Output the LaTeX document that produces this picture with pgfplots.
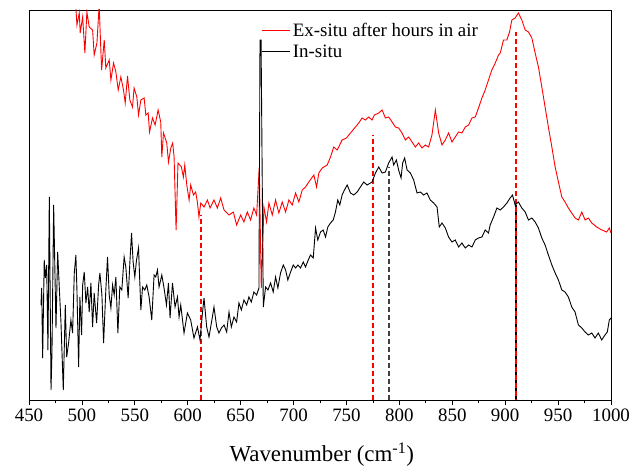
\documentclass[border=0pt]{standalone}
\usepackage{fontspec}
\setmainfont{Liberation Serif}
\usepackage{pgfplots}
\pgfplotsset{compat=1.18}
\definecolor{dred}{RGB}{255,0,0}
\begin{document}
\begin{tikzpicture}[x=1bp,y=1bp]
\useasboundingbox (0,0) rectangle (634,470);
\begin{axis}[
 at={(29bp,70bp)}, anchor=south west,
 scale only axis, width=582bp, height=390bp,
 xmin=450, xmax=1000, ymin=0, ymax=390,
 xtick={450,500,...,1000}, minor x tick num=1,
 xtick pos=bottom, tick align=outside, ytick=\empty,
 major tick length=5bp, minor tick length=3bp,
 every tick/.style={line width=0.8bp, black},
 axis line style={line width=0.8bp},
 /pgf/number format/assume math mode=true,
 /pgf/number format/1000 sep={},
 tick label style={font=\fontsize{19}{22}\selectfont},
 xlabel={Wavenumber (cm\textsuperscript{-1})},
 xlabel style={font=\fontsize{23}{26}\selectfont, at={(axis description cs:0.503,0)}, anchor=base, yshift=-62bp},
 legend style={draw=none, fill=none, at={(0.40,0.972)}, anchor=north west, font=\fontsize{19}{22}\selectfont, row sep=3bp, inner sep=0pt},
 legend cell align=left,
 legend image code/.code={\draw[#1, line width=0.9bp] (0bp,0bp) -- (28bp,0bp);},
]
\addplot[draw=black, line width=1.4bp, dash pattern=on 5bp off 3bp, forget plot] coordinates {(612.5,0) (612.5,62)};
\addplot[draw=dred, line width=1.4bp, dash pattern=on 5bp off 3bp, forget plot] coordinates {(612.5,0) (612.5,185)};
\addplot[draw=dred, line width=1.6bp, dash pattern=on 5bp off 3bp, forget plot] coordinates {(775,0) (775,265)};
\addplot[draw=black!75, line width=1.6bp, dash pattern=on 5bp off 3bp, forget plot] coordinates {(790,0) (790,233)};
\addplot[draw=black, line width=1.4bp, dash pattern=on 5bp off 3bp, forget plot] coordinates {(910.2,0) (910.2,195)};
\addplot[draw=dred, line width=1.4bp, dash pattern=on 5bp off 3bp, dash phase=4bp, forget plot] coordinates {(910.2,0) (910.2,368)};
\addplot[red, line width=0.9bp] coordinates {
(492,400) (494.3,392) (495.3,375) (497.5,387) (498.4,367) (500.7,383) (502.8,347) (504.7,388) (506.9,373) (510.1,370) (511.6,345) (514.2,357) (516.3,395) (518.6,330) (521.1,360) (522.6,332) (525.8,340) (527.4,320) (529.9,337) (532.1,328) (534.3,310) (536.8,323) (539.3,310) (540.9,297) (543.1,324) (545.3,300) (547.8,293) (549.3,312) (551.9,303) (553.5,285) (555.7,300) (558.8,302) (560.4,285) (562.6,287) (563.9,268) (566.7,282) (569.2,275) (572.0,290) (574.5,278) (575.5,243) (577.1,267) (580.2,257) (581.8,238) (584.0,252) (585.8,257) (587.1,243) (589.0,170) (590.8,237) (594.0,233) (595.9,223) (597.2,235) (599.1,215) (601.3,200) (602.8,215) (605.4,205) (607.5,208) (609.1,198) (610.6,183) (612.3,197) (615.4,193) (618.6,200) (621.1,192) (624.8,200) (628.0,192) (631.1,202) (634.3,190) (639.0,185) (643.1,188) (646.2,175) (650.0,185) (653.1,178) (656.3,188) (659.4,180) (662.5,192) (665.1,185) (667.6,233) (669.5,112) (672.0,193) (674.5,178) (676.7,197) (679.9,185) (683.0,200) (686.1,187) (689.3,198) (692.5,188) (695.6,200) (698.8,195) (701.9,207) (705.0,198) (708.2,210) (711.3,213) (714.4,218) (719.2,225) (721.7,213) (723.9,227) (727.1,232) (731.8,235) (734.9,243) (738.0,253) (741.2,250) (745.9,260) (750,262) (753.8,267) (758.5,273) (761.6,277) (764.8,282) (767.9,280) (771.0,283) (774.2,280) (776.4,285) (780.5,287) (783.7,290) (786.8,282) (789.9,283) (793.1,278) (796.2,273) (799.3,272) (802.5,267) (805.7,260) (808.8,263) (812.0,258) (815.1,253) (818.2,257) (821.4,252) (824.5,255) (827.6,253) (830.8,265) (834.0,290) (837.1,267) (840.3,255) (843.4,260) (846.5,267) (849.7,258) (852.8,263) (856.0,268) (859.1,267) (862.3,273) (865.4,275) (868.6,282) (871.7,283) (874.8,292) (878.0,302) (881.1,310) (884.2,320) (887.4,330) (890.6,337) (893.7,345) (895.3,347) (898.4,360) (901.6,360) (904.1,368) (906.3,380) (909.4,382) (912.5,387) (915.7,380) (918.9,370) (922.0,368) (925.2,362) (928.3,347) (931.4,333) (934.6,313) (937.7,293) (940.8,273) (944.1,253) (947.2,233) (950.3,218) (953.5,203) (956.6,198) (959.7,192) (962.9,187) (966.0,182) (969.2,180) (972.4,188) (975.5,180) (978.6,182) (981.8,177) (986.5,173) (991.2,170) (995.9,168) (998.4,172) (1000,167)
};
\addlegendentry{Ex-situ after hours in air}
\addplot[black, line width=0.9bp] coordinates {
(461.3,95) (462.0,112) (462.9,42) (464.4,140) (465.4,122) (466.7,135) (467.9,50) (469.2,203) (470.8,10) (471.7,47) (473.3,195) (475.5,72) (477.1,148) (478.6,113) (480.2,78) (482.4,10) (484.3,95) (485.6,43) (487.4,57) (489.6,80) (491.2,67) (492.8,127) (494.3,145) (495.3,110) (496.9,33) (498.1,103) (499.7,65) (500.7,115) (502.2,128) (503.8,97) (505.4,113) (506.9,88) (508.5,117) (510.1,73) (511.6,107) (513.9,77) (515.8,115) (517.0,127) (518.9,105) (520.5,57) (522.6,110) (524.2,143) (525.8,105) (527.4,92) (529.0,115) (530.5,105) (532.1,123) (534.0,67) (535.8,113) (537.7,110) (539.9,143) (541.5,133) (543.7,102) (545.3,137) (546.9,167) (548.4,138) (550.0,123) (551.6,140) (553.5,152) (555.7,90) (557.3,113) (559.4,110) (561.3,115) (563.5,103) (566.0,80) (568.2,125) (569.8,123) (571.4,130) (572.9,113) (575.5,125) (577.6,112) (579.9,95) (581.8,117) (583.3,82) (585.6,117) (588.0,93) (590.3,103) (591.8,83) (593.4,95) (596.5,67) (599.7,87) (602.8,80) (605.9,62) (609.2,73) (611.6,60) (613.9,87) (615.4,102) (617.9,73) (620.1,63) (623.3,83) (624.8,93) (627.4,73) (629.5,67) (631.8,72) (634.3,75) (636.8,68) (639.0,88) (641.2,73) (643.7,83) (646.2,78) (648.4,97) (650.7,90) (653.1,100) (655.7,95) (657.8,103) (660.1,98) (662.5,108) (665.1,105) (667.3,112) (668.3,360) (669.3,360) (671.4,93) (673.6,113) (675.8,110) (678.3,117) (680.8,108) (683.0,123) (685.2,112) (687.7,127) (690.3,135) (692.5,130) (694.6,120) (697.2,128) (699.7,135) (701.9,132) (704.1,135) (706.6,132) (709.2,138) (711.3,133) (713.9,140) (716.0,145) (718.6,142) (720.8,172) (722.9,160) (725.5,168) (728.0,170) (730.2,163) (732.4,173) (734.9,177) (737.5,180) (739.6,188) (741.8,200) (743.7,195) (745.9,205) (748.1,210) (750.7,215) (753.8,207) (756.9,205) (760.1,208) (763.2,213) (766.3,218) (769.5,215) (774.2,218) (777.4,227) (780.5,233) (783.7,227) (786.8,228) (789.9,237) (793.1,243) (794.6,235) (797.2,240) (799.3,230) (801.6,222) (803.1,237) (805.0,242) (807.3,230) (810.4,227) (813.5,220) (816.7,207) (819.8,208) (822.9,205) (826.1,207) (829.2,200) (832.4,197) (835.6,193) (837.7,173) (840.3,177) (843.4,172) (846.5,163) (849.7,158) (852.8,160) (856.0,153) (859.1,157) (862.3,152) (865.4,155) (868.6,153) (871.7,160) (874.8,162) (878.0,163) (881.1,170) (884.2,167) (885.8,175) (889.0,183) (892.2,192) (895.3,190) (898.4,193) (901.6,197) (904.7,202) (906.9,205) (909.4,195) (912.5,198) (915.7,192) (918.9,188) (922.0,180) (925.2,182) (928.3,178) (931.4,172) (934.6,162) (937.7,155) (940.8,145) (944.1,135) (947.2,127) (950.3,120) (953.5,110) (956.6,108) (959.7,103) (962.9,93) (966.0,88) (969.2,75) (972.4,72) (975.5,68) (978.6,65) (981.8,67) (984.9,62) (988.0,67) (991.2,60) (994.3,65) (996.5,68) (998.4,80) (1000,82)
};
\addlegendentry{In-situ}
\end{axis}
\end{tikzpicture}
\end{document}
